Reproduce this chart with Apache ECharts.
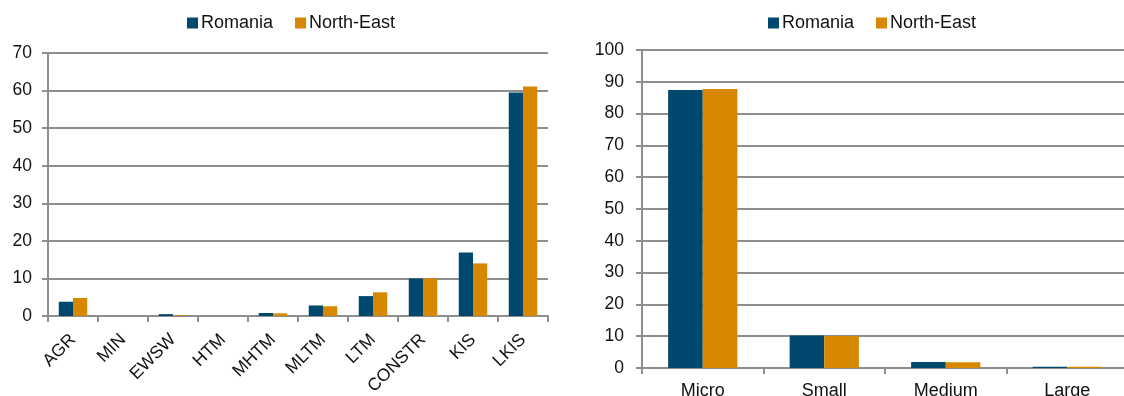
<!DOCTYPE html>
<html>
<head>
<meta charset="utf-8">
<script src="https://cdn.jsdelivr.net/npm/echarts@6/dist/echarts.min.js"></script>
<style>
html,body{margin:0;padding:0;background:#fff;}
#c{width:1124px;height:396px;}
</style>
</head>
<body>
<div id="c"></div>
<script>
const seriesNames = ['Romania', 'North-East'];
const sectorCategories = ['AGR', 'MIN', 'EWSW', 'HTM', 'MHTM', 'MLTM', 'LTM', 'CONSTR', 'KIS', 'LKIS'];
const sectorRomania = [3.8, 0, 0.5, 0, 0.8, 2.8, 5.3, 10.0, 16.9, 59.5];
const sectorNorthEast = [4.8, 0, 0.2, 0, 0.7, 2.6, 6.3, 10.0, 14.0, 61.1];
const sizeCategories = ['Micro', 'Small', 'Medium', 'Large'];
const sizeRomania = [87.4, 10.2, 1.9, 0.4];
const sizeNorthEast = [87.7, 10.1, 1.8, 0.4];
const sectorTicks = [0, 10, 20, 30, 40, 50, 60, 70];
const sizeTicks = [0, 10, 20, 30, 40, 50, 60, 70, 80, 90, 100];

const colBlue = '#01486F';
const colOrange = '#D58800';
const gray = '#8E8E8E';
const font = '"Liberation Sans", Arial, sans-serif';

const chart = echarts.init(document.getElementById('c'));

function legend(left) {
  return {
    left: left, top: 14, padding: 0,
    itemWidth: 11, itemHeight: 11, itemGap: 22,
    icon: 'rect',
    textStyle: {fontFamily: font, fontSize: 18, color: '#111', padding: [0, 0, 0, -2]},
    data: seriesNames
  };
}

function valueAxis(idx, ticks, margin) {
  return {
    type: 'value', gridIndex: idx,
    min: ticks[0], max: ticks[ticks.length - 1], interval: ticks[1] - ticks[0],
    axisLine: {show: true, lineStyle: {color: gray, width: 2}},
    axisTick: {show: true, length: 6, lineStyle: {color: gray, width: 2}},
    splitLine: {show: true, lineStyle: {color: gray, width: 2}},
    axisLabel: {fontFamily: font, fontSize: 17.5, color: '#111', margin: margin}
  };
}

function catAxis(idx, cats, rotate, margin, size) {
  return {
    type: 'category', gridIndex: idx, data: cats,
    axisLine: {show: true, lineStyle: {color: gray, width: 2}},
    axisTick: {show: true, length: 6, lineStyle: {color: gray, width: 2}},
    axisLabel: {fontFamily: font, fontSize: size, color: '#111', rotate: rotate, margin: margin, interval: 0}
  };
}

chart.setOption({
  animation: false,
  backgroundColor: '#fff',
  legend: [legend(187), legend(768)],
  grid: [
    {left: 48, right: 576, top: 53, bottom: 80, containLabel: false, outerBoundsMode: 'none'},
    {left: 642, right: -4, top: 50, bottom: 28, containLabel: false, outerBoundsMode: 'none'}
  ],
  xAxis: [
    catAxis(0, sectorCategories, 45, 21, 17.5),
    catAxis(1, sizeCategories, 0, 14, 18)
  ],
  yAxis: [
    valueAxis(0, sectorTicks, 16),
    valueAxis(1, sizeTicks, 18)
  ],
  series: [
    {name: seriesNames[0], type: 'bar', xAxisIndex: 0, yAxisIndex: 0, data: sectorRomania,
     itemStyle: {color: colBlue}, barGap: '0%', barCategoryGap: '43%'},
    {name: seriesNames[1], type: 'bar', xAxisIndex: 0, yAxisIndex: 0, data: sectorNorthEast,
     itemStyle: {color: colOrange}, barGap: '0%', barCategoryGap: '43%'},
    {name: seriesNames[0], type: 'bar', xAxisIndex: 1, yAxisIndex: 1, data: sizeRomania,
     itemStyle: {color: colBlue}, barGap: '0%', barCategoryGap: '43%'},
    {name: seriesNames[1], type: 'bar', xAxisIndex: 1, yAxisIndex: 1, data: sizeNorthEast,
     itemStyle: {color: colOrange}, barGap: '0%', barCategoryGap: '43%'}
  ]
});
</script>
</body>
</html>
